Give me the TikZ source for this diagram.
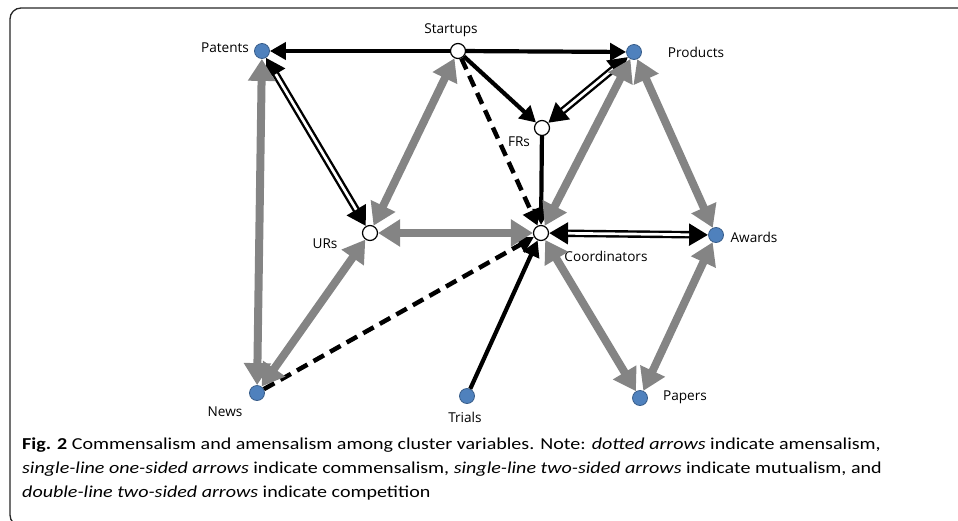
\documentclass[tikz,border=0pt]{standalone}
\usepackage{fontspec}
\setmainfont{Carlito}
\newfontfamily\lblfont{Open Sans}
\newfontfamily\capfont[FakeStretch=1.2]{Carlito}
\usetikzlibrary{arrows.meta}
\definecolor{varblue}{RGB}{79,129,189}
\definecolor{varline}{RGB}{56,93,138}
\definecolor{arrowgray}{RGB}{132,132,132}

\begin{document}
\begin{tikzpicture}[x=1pt,y=-1pt,
  var/.style={circle,draw=varline,fill=varblue,line width=0.8pt,minimum size=15pt,inner sep=0pt},
  hub/.style={circle,draw=black,fill=white,line width=1.2pt,minimum size=15pt,inner sep=0pt},
  lbl/.style={font=\lblfont\fontsize{13.6}{15}\selectfont,inner sep=0pt},
  capline/.style={anchor=base west,inner sep=0pt,font=\capfont\fontsize{16.7}{20}\selectfont},
  mutual/.style={draw=arrowgray,line width=8pt,{Triangle[length=22pt,width=26pt]}-{Triangle[length=22pt,width=26pt]}},
  commens/.style={draw=black,line width=4.2pt,-{Triangle[length=16pt,width=17pt]}},
  amens/.style={commens,line width=4.5pt,dash pattern=on 12pt off 7pt},
  comp/.style={draw=black,line width=7.5pt,{Triangle[length=19pt,width=21pt]}-{Triangle[length=19pt,width=21pt]},postaction={draw=white,line width=2.7pt,-,shorten >=19pt,shorten <=19pt}}]
\useasboundingbox (0,0) rectangle (958,520);
\begin{scope}
\clip (0,0) rectangle (958,520);
\draw[line width=1.3pt,rounded corners=11pt,black!85] (970,8) -- (10,8) -- (10,526) -- (970,526);
\end{scope}

\path (262,51) node[var](Patents){} (458,51) node[hub](Startups){} (634,52) node[var](Products){} (542,128) node[hub](FRs){} (370,233) node[hub](URs){} (541,233) node[hub](Coordinators){} (716,235) node[var](Awards){} (257,393) node[var](News){} (467,396) node[var](Trials){} (640,398) node[var](Papers){};

\path (225,48) node[lbl](tPatents){Patents} (451,30) node[lbl](tStartups){Startups} (696,52) node[lbl](tProducts){Products} (519,142) node[lbl](tFRs){FRs} (325,244) node[lbl](tURs){URs} (606,256) node[lbl](tCoordinators){Coordinators} (754,237) node[lbl](tAwards){Awards} (225,412) node[lbl](tNews){News} (465,417) node[lbl](tTrials){Trials} (685,397) node[lbl](tPapers){Papers};

% one-sided and dotted
\draw[commens] (Startups) -- (Patents);
\draw[commens] (Startups) -- (Products);
\draw[commens] (Startups) -- (FRs);
\draw[amens] (Startups) -- (Coordinators);
\draw[commens] (FRs) -- (Coordinators);
\draw[commens] (Trials) -- (Coordinators);
\draw[amens] (News) -- (Coordinators);
% competition
\draw[comp] (Patents) -- (URs);
\draw[comp] (FRs) -- (Products);
\draw[comp] (Coordinators) -- (Awards);
% mutualism
\draw[mutual] (Startups) -- (URs);
\draw[mutual] (Patents) -- (News);
\draw[mutual] (URs) -- (Coordinators);
\draw[mutual] (URs) -- (News);
\draw[mutual] (Products) -- (Coordinators);
\draw[mutual] (Products) -- (Awards);
\draw[mutual] (Coordinators) -- (Papers);
\draw[mutual] (Awards) -- (Papers);

\node[capline] (cap1) at (22,449) {\textbf{Fig. 2} Commensalism and amensalism among cluster variables. Note: \textit{dotted arrows} indicate amensalism,};
\node[capline] (cap2) at (22,473) {\textit{single-line one-sided arrows} indicate commensalism, \textit{single-line two-sided arrows} indicate mutualism, and};
\node[capline] (cap3) at (22,497) {\textit{double-line two-sided arrows} indicate competition};
\end{tikzpicture}
\end{document}
